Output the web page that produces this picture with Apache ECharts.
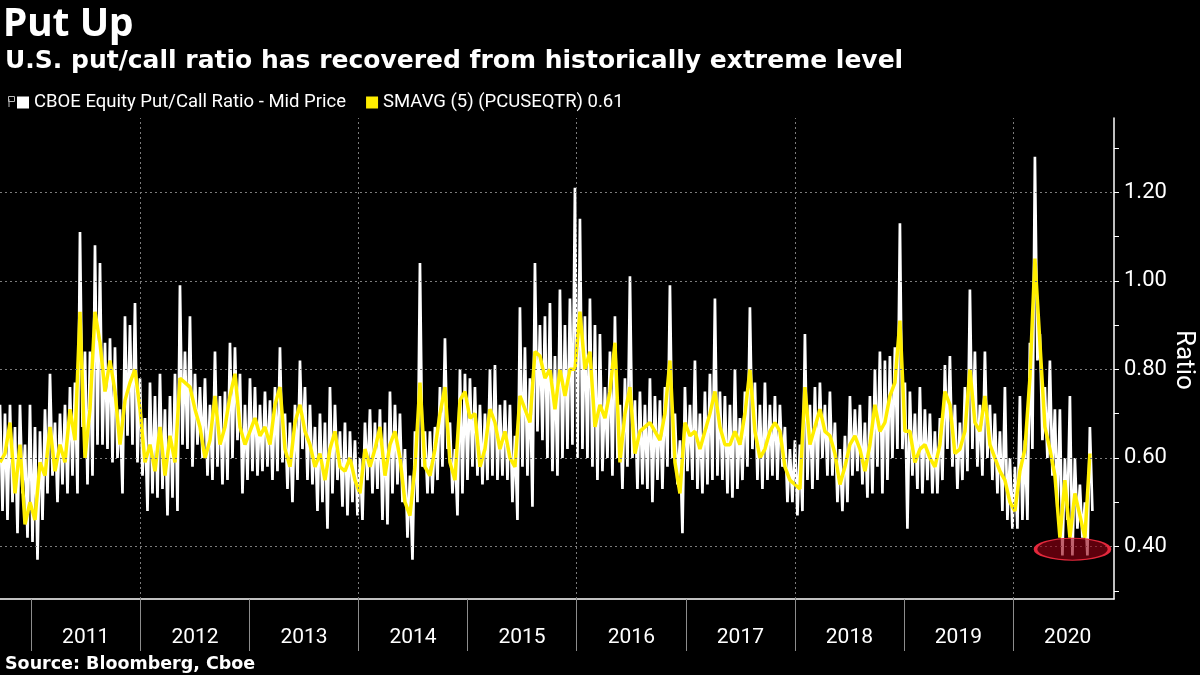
<!DOCTYPE html>
<html>
<head>
<meta charset="utf-8">
<script src="https://cdn.jsdelivr.net/npm/echarts@6/dist/echarts.min.js"></script>
<style>
html,body{margin:0;padding:0;background:#000;}
#chart{width:1200px;height:675px;}
</style>
</head>
<body>
<div id="chart"></div>
<script>
// ---- sampling of the series (one sample every STEP_DAYS, from START) ----
const START = Date.UTC(2010, 8, 18);
const AXIS_END = Date.UTC(2020, 11, 4);
const STEP_DAYS = 16.74;

const years = [2011, 2012, 2013, 2014, 2015, 2016, 2017, 2018, 2019, 2020];
const gridYears = [2012, 2014, 2016, 2018, 2020];
const yTickValues = [0.3, 0.4, 0.5, 0.6, 0.7, 0.8, 0.9, 1.0, 1.1, 1.2, 1.3];
const yLabelValues = [0.4, 0.6, 0.8, 1.0, 1.2];

// CBOE Equity Put/Call Ratio: highs and lows of the daily spikes in each sample window
const ratioHigh = [
  0.72,0.70,0.72,0.67,0.72,0.63,0.72,0.67,0.66,0.71,0.79,0.68,0.70,0.72,0.76,0.77,1.11,0.84,0.84,1.08,1.04,0.86,0.87,0.85,0.71,0.92,0.90,0.95,0.78,0.69,0.77,0.74,0.79,0.71,0.74,0.79,0.99,
  0.84,0.92,0.79,0.76,0.78,0.72,0.84,0.74,0.75,0.86,0.85,0.79,0.72,0.78,0.76,0.72,0.75,0.73,0.76,0.85,0.70,0.68,0.72,0.82,0.76,0.72,0.67,0.70,0.68,0.76,0.72,0.66,0.68,0.66,0.64,0.60,0.68,
  0.71,0.68,0.71,0.68,0.75,0.72,0.70,0.62,0.56,0.66,1.04,0.66,0.66,0.67,0.76,0.87,0.68,0.62,0.80,0.79,0.78,0.76,0.72,0.70,0.80,0.81,0.72,0.73,0.72,0.65,0.94,0.85,0.78,1.04,0.90,0.92,0.95,
  0.83,0.98,0.90,0.96,1.21,1.14,0.92,0.96,0.90,0.88,0.76,0.84,0.92,0.72,0.78,1.01,0.73,0.75,0.72,0.78,0.74,0.73,0.76,0.99,0.70,0.64,0.76,0.72,0.82,0.70,0.75,0.79,0.96,0.75,0.74,0.72,0.80,
  0.69,0.75,0.94,0.77,0.72,0.77,0.72,0.74,0.72,0.67,0.62,0.64,0.63,0.88,0.72,0.76,0.77,0.72,0.75,0.68,0.62,0.65,0.74,0.71,0.72,0.68,0.74,0.80,0.84,0.82,0.83,0.85,1.13,0.77,0.75,0.70,0.76,
  0.71,0.70,0.66,0.69,0.81,0.83,0.72,0.68,0.76,0.98,0.84,0.72,0.84,0.72,0.70,0.66,0.76,0.60,0.58,0.74,0.64,0.86,1.28,0.88,0.76,0.82,0.71,0.71,0.60,0.74,0.60,0.54,0.50,0.67
];
const ratioLow = [
  0.48,0.46,0.50,0.43,0.52,0.42,0.41,0.37,0.46,0.52,0.56,0.50,0.54,0.52,0.56,0.52,0.67,0.54,0.56,0.63,0.63,0.62,0.59,0.60,0.52,0.65,0.63,0.59,0.56,0.48,0.52,0.51,0.53,0.47,0.51,0.48,0.63,
  0.62,0.58,0.63,0.60,0.56,0.55,0.58,0.54,0.55,0.60,0.64,0.52,0.55,0.57,0.56,0.57,0.58,0.55,0.57,0.59,0.53,0.50,0.55,0.62,0.55,0.54,0.48,0.50,0.44,0.52,0.55,0.49,0.47,0.50,0.47,0.46,0.55,
  0.52,0.53,0.46,0.45,0.52,0.54,0.50,0.42,0.37,0.50,0.58,0.52,0.52,0.55,0.58,0.62,0.52,0.47,0.52,0.55,0.58,0.56,0.54,0.55,0.56,0.55,0.56,0.55,0.50,0.46,0.58,0.56,0.49,0.66,0.64,0.60,0.57,
  0.56,0.60,0.62,0.63,0.60,0.62,0.60,0.58,0.55,0.57,0.60,0.56,0.60,0.53,0.58,0.60,0.53,0.54,0.53,0.50,0.55,0.53,0.58,0.60,0.54,0.43,0.57,0.55,0.53,0.52,0.54,0.55,0.56,0.55,0.52,0.51,0.53,
  0.55,0.58,0.62,0.55,0.53,0.55,0.56,0.55,0.58,0.50,0.50,0.47,0.48,0.55,0.53,0.55,0.60,0.56,0.56,0.50,0.48,0.50,0.56,0.57,0.54,0.51,0.52,0.58,0.52,0.55,0.60,0.62,0.62,0.44,0.56,0.53,0.52,
  0.55,0.52,0.52,0.55,0.62,0.58,0.53,0.55,0.57,0.62,0.58,0.56,0.60,0.55,0.52,0.48,0.46,0.44,0.44,0.46,0.46,0.62,0.82,0.64,0.60,0.56,0.48,0.38,0.46,0.38,0.44,0.42,0.38,0.48
];
// SMAVG (5)
const sma5 = [
  0.59,0.61,0.68,0.52,0.63,0.45,0.50,0.46,0.59,0.56,0.67,0.57,0.63,0.59,0.71,0.64,0.93,0.60,0.71,0.93,0.86,0.75,0.82,0.75,0.63,0.73,0.77,0.80,0.71,0.59,0.63,0.57,0.67,0.56,0.65,0.59,0.78,
  0.77,0.76,0.71,0.67,0.60,0.64,0.74,0.63,0.67,0.74,0.79,0.67,0.63,0.66,0.69,0.65,0.67,0.63,0.72,0.76,0.62,0.58,0.68,0.72,0.66,0.63,0.58,0.61,0.55,0.62,0.66,0.58,0.57,0.60,0.55,0.52,0.62,
  0.58,0.62,0.67,0.56,0.63,0.66,0.60,0.50,0.47,0.58,0.77,0.58,0.56,0.62,0.70,0.76,0.59,0.55,0.73,0.75,0.69,0.70,0.58,0.62,0.71,0.68,0.62,0.66,0.60,0.58,0.74,0.71,0.68,0.84,0.83,0.78,0.80,
  0.71,0.80,0.74,0.80,0.80,0.93,0.80,0.84,0.67,0.72,0.69,0.75,0.86,0.59,0.70,0.76,0.61,0.66,0.67,0.68,0.66,0.64,0.70,0.82,0.59,0.52,0.68,0.65,0.66,0.62,0.66,0.70,0.75,0.67,0.63,0.63,0.66,
  0.63,0.70,0.80,0.66,0.60,0.62,0.66,0.68,0.66,0.58,0.55,0.54,0.53,0.76,0.63,0.67,0.71,0.66,0.65,0.61,0.54,0.58,0.63,0.65,0.62,0.57,0.63,0.72,0.66,0.68,0.74,0.77,0.91,0.66,0.66,0.59,0.62,
  0.63,0.60,0.58,0.63,0.75,0.72,0.61,0.62,0.66,0.80,0.68,0.66,0.74,0.63,0.60,0.57,0.55,0.50,0.48,0.57,0.62,0.78,1.05,0.86,0.67,0.62,0.56,0.42,0.55,0.42,0.52,0.47,0.42,0.61
];
// annotated extreme-low zone (centre of the red ellipse)
const lowZone = { date: Date.UTC(2020, 6, 18), value: 0.394 };

// ---- build series data (x = timestamp in ms on a linear axis) ----
const DAY = 86400000;
const tAt = i => START + i * STEP_DAYS * DAY;
const whiteData = [];
ratioHigh.forEach((h, i) => {
  whiteData.push([tAt(i), h]);
  whiteData.push([tAt(i) + STEP_DAYS * DAY / 2, ratioLow[i]]);
});
const smaData = sma5.map((v, i) => [tAt(i), v]);

const FONT = 'Roboto';
const HEAD_FONT = 'DejaVu Sans';
const NAME1 = 'CBOE Equity Put/Call Ratio - Mid Price';
const NAME2 = 'SMAVG (5) (PCUSEQTR) 0.61';

const chart = echarts.init(document.getElementById('chart'), null, {renderer: 'canvas'});
chart.setOption({
  backgroundColor: '#000',
  animation: false,
  textStyle: {fontFamily: FONT},
  title: [
    {text: 'Put Up', left: 3, top: 5, padding: 0,
     textStyle: {color: '#fff', fontSize: 39, fontWeight: 'bold', fontFamily: 'Noto Sans'}},
    {text: 'U.S. put/call ratio has recovered from historically extreme level', left: 5, top: 49, padding: 0,
     textStyle: {color: '#fff', fontSize: 25, fontWeight: 'bold', fontFamily: HEAD_FONT}},
    {text: 'Source: Bloomberg, Cboe', left: 5, top: 655, padding: 0,
     textStyle: {color: '#fff', fontSize: 17.5, fontWeight: 'bold', fontFamily: HEAD_FONT}}
  ],
  legend: {
    data: [NAME1, NAME2], left: 17, top: 93, padding: 0,
    icon: 'rect', itemWidth: 12, itemHeight: 12, itemGap: 20, selectedMode: false,
    textStyle: {color: '#fff', fontSize: 18.5, fontFamily: FONT}
  },
  graphic: [
    {type: 'rect', left: 6, top: 94, shape: {width: 6, height: 5}, style: {fill: 'none', stroke: '#bbb', lineWidth: 1}},
    {type: 'line', shape: {x1: 9, y1: 99, x2: 9, y2: 107}, style: {stroke: '#bbb', lineWidth: 1}},
    {type: 'text', x: 1183, y: 360, rotation: -Math.PI / 2,
     style: {text: 'Ratio', fill: '#fff', font: '26px Roboto', align: 'center', verticalAlign: 'middle'}}
  ],
  grid: {left: 0, right: 86, top: 118, bottom: 76, containLabel: false, outerBoundsMode: 'none'},
  xAxis: {
    type: 'value', min: START, max: AXIS_END, scale: true,
    axisLine: {lineStyle: {color: '#fff', width: 1.5}},
    axisTick: {show: true, customValues: years.map(y => Date.UTC(y, 0, 1)), length: 52,
               lineStyle: {color: '#8c8c8c', width: 1}},
    axisLabel: {customValues: years.map(y => Date.UTC(y, 6, 2)),
                formatter: v => String(new Date(v).getUTCFullYear()),
                color: '#fff', fontSize: 21, margin: 28, fontFamily: FONT},
    splitLine: {show: false}
  },
  yAxis: {
    type: 'value', position: 'right', min: 0.2815, max: 1.3675,
    axisLine: {show: true, lineStyle: {color: '#fff', width: 1.5}},
    axisTick: {show: true, customValues: yTickValues, length: 5, lineStyle: {color: '#fff'}},
    axisLabel: {customValues: yLabelValues, formatter: v => v.toFixed(2),
                color: '#fff', fontSize: 22, margin: 10, fontFamily: FONT},
    splitLine: {show: false}
  },
  series: [
    {
      name: 'gridlines', type: 'line', data: [], z: 1, silent: true,
      markLine: {
        silent: true, symbol: ['none', 'none'], animation: false,
        label: {show: false},
        lineStyle: {color: '#7c7c7c', type: [2, 3], width: 1},
        data: yLabelValues.map(v => ({yAxis: v}))
          .concat(gridYears.map(y => ({xAxis: Date.UTC(y, 0, 1)})))
      }
    },
    {
      name: NAME1, type: 'line', data: whiteData, z: 2,
      showSymbol: false, symbol: 'none',
      lineStyle: {color: '#ffffff', width: 2.7}, itemStyle: {color: '#ffffff'}
    },
    {
      name: NAME2, type: 'line', data: smaData, z: 3,
      showSymbol: false, symbol: 'none',
      lineStyle: {color: '#ffee00', width: 3.5}, itemStyle: {color: '#ffee00'}
    },
    {
      name: 'annotation', type: 'line', data: [], z: 10, silent: true,
      markPoint: {
        silent: true, animation: false,
        symbol: 'circle', symbolSize: [74, 22],
        label: {show: false},
        itemStyle: {color: 'rgba(150,0,20,0.62)', borderColor: '#e3283c', borderWidth: 2},
        data: [{coord: [lowZone.date, lowZone.value]}]
      }
    }
  ]
});
</script>
</body>
</html>
